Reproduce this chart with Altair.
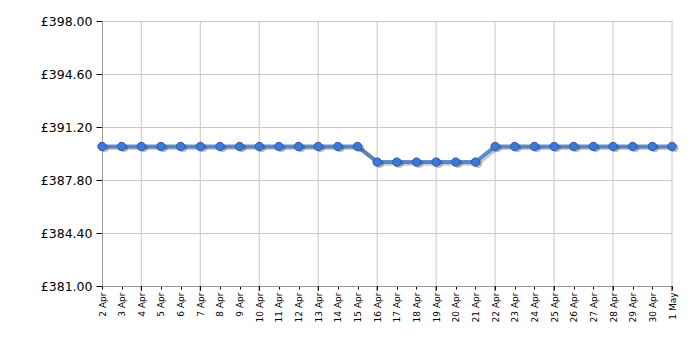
import altair as alt
import pandas as pd

dates = ["2024-04-%02d" % d for d in range(2, 31)] + ["2024-05-01"]
prices = [389.95] * 14 + [388.95] * 6 + [389.95] * 10
grid_dates = ["2024-04-04", "2024-04-07", "2024-04-10", "2024-04-13", "2024-04-16",
              "2024-04-19", "2024-04-22", "2024-04-25", "2024-04-28", "2024-05-01"]
y_ticks = [381.0, 384.4, 387.8, 391.2, 394.6, 398.0]

df = pd.DataFrame({"date": dates, "price": prices})
gdf = pd.DataFrame({"date": grid_dates})

W, H = 570, 265
FONT = "DejaVu Sans"

xscale = alt.Scale(domain=["2024-04-02", "2024-05-01"], nice=False)
yscale = alt.Scale(domain=[381, 398], nice=False, zero=False)

x_axis = alt.Axis(tickCount=alt.TimeIntervalStep(interval="day", step=1),
                  format="%-d %b", labelAngle=270,
                  labelFont=FONT, labelFontSize=9, labelColor="#000",
                  tickSize=3, tickColor="#000", grid=False,
                  domainColor="#999", labelPadding=3, labelOverlap=False,
                  labelSeparation=0, labelBound=False, labelFlush=False)
y_axis = alt.Axis(values=y_ticks,
                  labelExpr="'£' + format(datum.value, '.2f')",
                  labelFont=FONT, labelFontSize=12.5, labelColor="#000",
                  tickSize=6, tickColor="#000", grid=True,
                  gridColor="#c8c8c8", domainColor="#999",
                  labelPadding=4, labelOverlap=False)

base = alt.Chart(df)

line = base.mark_line(color="#5b8fdc", strokeWidth=4).encode(
    x=alt.X("date:T", scale=xscale, title=None, axis=x_axis),
    y=alt.Y("price:Q", scale=yscale, title=None, axis=y_axis))

vgrid = alt.Chart(gdf).mark_rule(color="#c8c8c8", strokeWidth=1).encode(
    x=alt.X("date:T", scale=xscale))

major_ticks = alt.Chart(gdf).mark_rule(color="#000", strokeWidth=1).encode(
    x=alt.X("date:T", scale=xscale), y=alt.value(H), y2=alt.value(H + 5))

shadow = base.transform_calculate(
    sp="datum.price - 0.1",
    sd="toDate(datum.date) + 3*3600*1000")

shadow_line = shadow.mark_line(
    color="#666", opacity=0.35, strokeWidth=4).encode(
    x=alt.X("sd:T", scale=xscale), y=alt.Y("sp:Q", scale=yscale))

shadow_pts = shadow.mark_circle(
    color="#444", opacity=0.35, size=75).encode(
    x=alt.X("sd:T", scale=xscale), y=alt.Y("sp:Q", scale=yscale))

pts = base.mark_point(filled=True, fill="#3d78d6", stroke="#2a5bb0",
                      strokeWidth=1, size=70, opacity=1, shape="circle").encode(
    x=alt.X("date:T", scale=xscale), y=alt.Y("price:Q", scale=yscale))

chart = alt.layer(line, vgrid, shadow_line, shadow_pts, pts, major_ticks).properties(
    width=W, height=H,
    autosize=alt.AutoSizeParams(type="none"),
    padding={"left": 102, "top": 21, "right": 28, "bottom": 64},
    background="white",
).configure_view(stroke=None).configure_axisX(labelOverlap=False)

chart.save("out.html", embed_options={"renderer": "svg", "actions": False})
